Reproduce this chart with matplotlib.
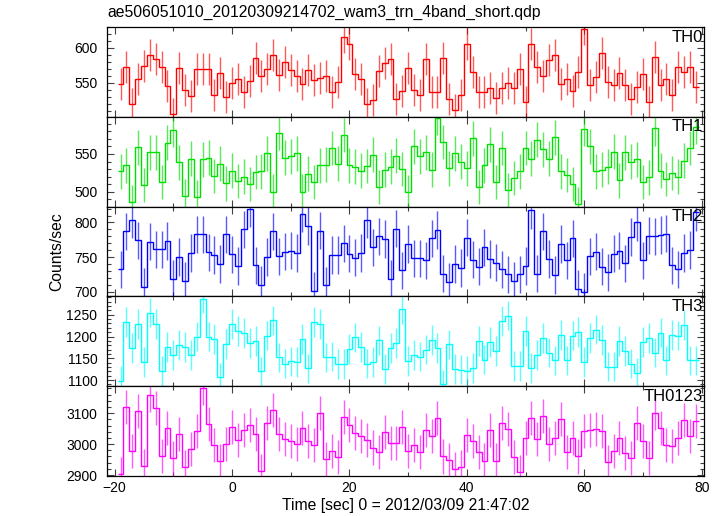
import numpy as np
import matplotlib
matplotlib.use("Agg")
import matplotlib.pyplot as plt
from matplotlib.ticker import MultipleLocator

plt.rcParams['font.family'] = ['Liberation Sans', 'DejaVu Sans']

title = "ae506051010_20120309214702_wam3_trn_4band_short.qdp"
xlabel = "Time [sec] 0 = 2012/03/09 21:47:02"
ylabel = "Counts/sec"

time_start = -19.0
bin_width = 1.0

labels = ["TH0", "TH1", "TH2", "TH3", "TH0123"]
colors = ["#ff0000", "#00e000", "#0000ff", "#00ffff", "#ff00ff"]

th0 = [548, 573, 519, 556, 574, 590, 584, 572, 545, 505,
       571, 540, 531, 570, 569, 569, 532, 564, 530, 549,
       555, 536, 553, 585, 560, 569, 590, 561, 580, 568,
       560, 548, 568, 554, 557, 559, 536, 551, 615, 605,
       562, 555, 520, 525, 567, 578, 584, 526, 538, 571,
       540, 532, 584, 537, 537, 585, 527, 511, 532, 606,
       566, 536, 536, 543, 528, 543, 550, 543, 569, 522,
       605, 573, 560, 582, 590, 548, 555, 538, 566, 627,
       547, 558, 592, 551, 546, 564, 547, 526, 544, 562,
       522, 587, 546, 555, 532, 573, 565, 572, 544]

th1 = [527, 535, 486, 559, 509, 552, 552, 513, 565, 582,
       539, 494, 544, 493, 543, 545, 521, 537, 511, 528,
       514, 520, 510, 526, 527, 551, 500, 578, 545, 547,
       551, 500, 524, 513, 535, 536, 558, 537, 575, 535,
       533, 528, 534, 549, 506, 529, 533, 548, 530, 499,
       560, 547, 552, 529, 598, 566, 531, 551, 540, 531,
       571, 506, 535, 563, 513, 558, 502, 518, 527, 558,
       544, 569, 556, 544, 572, 527, 522, 510, 483, 583,
       560, 527, 529, 533, 553, 515, 552, 540, 543, 513,
       519, 584, 528, 517, 525, 520, 541, 558, 586]

th2 = [732, 787, 804, 774, 707, 772, 761, 761, 773, 718,
       750, 716, 756, 783, 783, 757, 753, 740, 783, 754,
       737, 790, 820, 738, 710, 750, 787, 751, 758, 759,
       756, 813, 795, 701, 788, 709, 753, 753, 770, 755,
       749, 756, 804, 764, 780, 776, 718, 791, 731, 769,
       748, 748, 745, 777, 789, 726, 714, 740, 734, 778,
       746, 736, 764, 747, 742, 732, 725, 716, 725, 737,
       818, 726, 787, 747, 724, 769, 745, 777, 704, 700,
       751, 758, 736, 728, 755, 759, 741, 779, 800, 745,
       781, 780, 782, 784, 738, 732, 756, 760, 815]

th3 = [1098, 1233, 1174, 1228, 1141, 1255, 1228, 1121, 1176, 1157,
       1180, 1176, 1157, 1200, 1287, 1200, 1195, 1106, 1183, 1229,
       1212, 1208, 1185, 1190, 1120, 1202, 1237, 1152, 1138, 1143,
       1141, 1194, 1127, 1233, 1229, 1152, 1154, 1137, 1137, 1171,
       1198, 1176, 1138, 1141, 1191, 1126, 1173, 1185, 1263, 1144,
       1157, 1154, 1170, 1192, 1173, 1090, 1182, 1126, 1124, 1121,
       1128, 1189, 1147, 1187, 1167, 1236, 1248, 1133, 1133, 1212,
       1128, 1157, 1196, 1163, 1145, 1204, 1145, 1202, 1210, 1142,
       1196, 1216, 1192, 1131, 1131, 1190, 1167, 1138, 1117, 1188,
       1196, 1163, 1209, 1145, 1204, 1202, 1226, 1145, 1145]

th0123 = [2902, 3120, 2978, 3108, 2928, 3160, 3118, 2963, 3051, 2954,
          3032, 2925, 2983, 3041, 3180, 3065, 2996, 2944, 3001, 3054,
          3012, 3047, 3062, 3034, 2913, 3067, 3109, 3034, 3015, 3010,
          3001, 3052, 3009, 2996, 3100, 2952, 2977, 2959, 3087, 3061,
          3035, 3027, 3013, 2989, 2973, 3038, 3004, 3004, 3055, 2977,
          2996, 2974, 3045, 3027, 3085, 2960, 2948, 2921, 2925, 3028,
          3011, 2974, 2947, 3047, 2947, 3069, 3049, 2957, 2910, 3021,
          3085, 3015, 3091, 3000, 3020, 3082, 2976, 3021, 2960, 3041,
          3047, 3050, 3043, 2942, 2978, 3021, 2971, 2954, 3067, 3009,
          2956, 3102, 3053, 2997, 2994, 3021, 3078, 3027, 3076]

series = [th0, th1, th2, th3, th0123]
errors = [23, 23, 27, 34, 55]
ylims = [(501, 630), (480, 599.5), (693, 823), (1086, 1292), (2897, 3187)]
major_steps = [50, 50, 50, 50, 100]
minor_steps = [10, 10, 10, 10, 20]

fig = plt.figure(figsize=(7.24, 5.16), dpi=100)
left, right = 107 / 724, 704 / 724
top, bottom = 1 - 27 / 516, 1 - 476 / 516
h = (top - bottom) / 5

n = len(th0)
t = time_start + bin_width * np.arange(n)
edges = np.append(t - bin_width / 2, t[-1] + bin_width / 2)

axes = []
for i, (vals, lab, col, err, yl, mj, mn) in enumerate(
        zip(series, labels, colors, errors, ylims, major_steps, minor_steps)):
    ax = fig.add_axes([left, top - (i + 1) * h, right - left, h])
    axes.append(ax)
    v = np.array(vals, dtype=float)
    ax.stairs(v, edges, baseline=None, color=col, lw=1.0)
    ax.errorbar(t, v, yerr=err, fmt='none', ecolor=col, elinewidth=1.0, alpha=0.65)
    ax.set_xlim(-21.3, 80.4)
    ax.set_ylim(*yl)
    ax.yaxis.set_major_locator(MultipleLocator(mj))
    ax.yaxis.set_minor_locator(MultipleLocator(mn))
    ax.xaxis.set_major_locator(MultipleLocator(20))
    ax.xaxis.set_minor_locator(MultipleLocator(10))
    ax.tick_params(which='both', direction='in', top=True, right=True,
                   labelsize=10, width=0.8, color='#404040')
    ax.tick_params(which='major', length=5)
    ax.tick_params(which='minor', length=3)
    ax.tick_params(axis='y', pad=7)
    for sp in ax.spines.values():
        sp.set_linewidth(0.9)
    if i < 4:
        ax.tick_params(labelbottom=False)
    ax.text(0.998, 0.97, lab, transform=ax.transAxes, ha='right', va='top',
            fontsize=12, color='black')

axes[-1].set_xlabel(xlabel, fontsize=11.3, labelpad=2)
fig.text(0.079, (top + bottom) / 2, ylabel, rotation=90, ha='center', va='center', fontsize=11.3)
fig.text(left, 1 - 12 / 516, title, ha='left', va='center', fontsize=11.3)

fig.savefig("out.png", dpi=100)
